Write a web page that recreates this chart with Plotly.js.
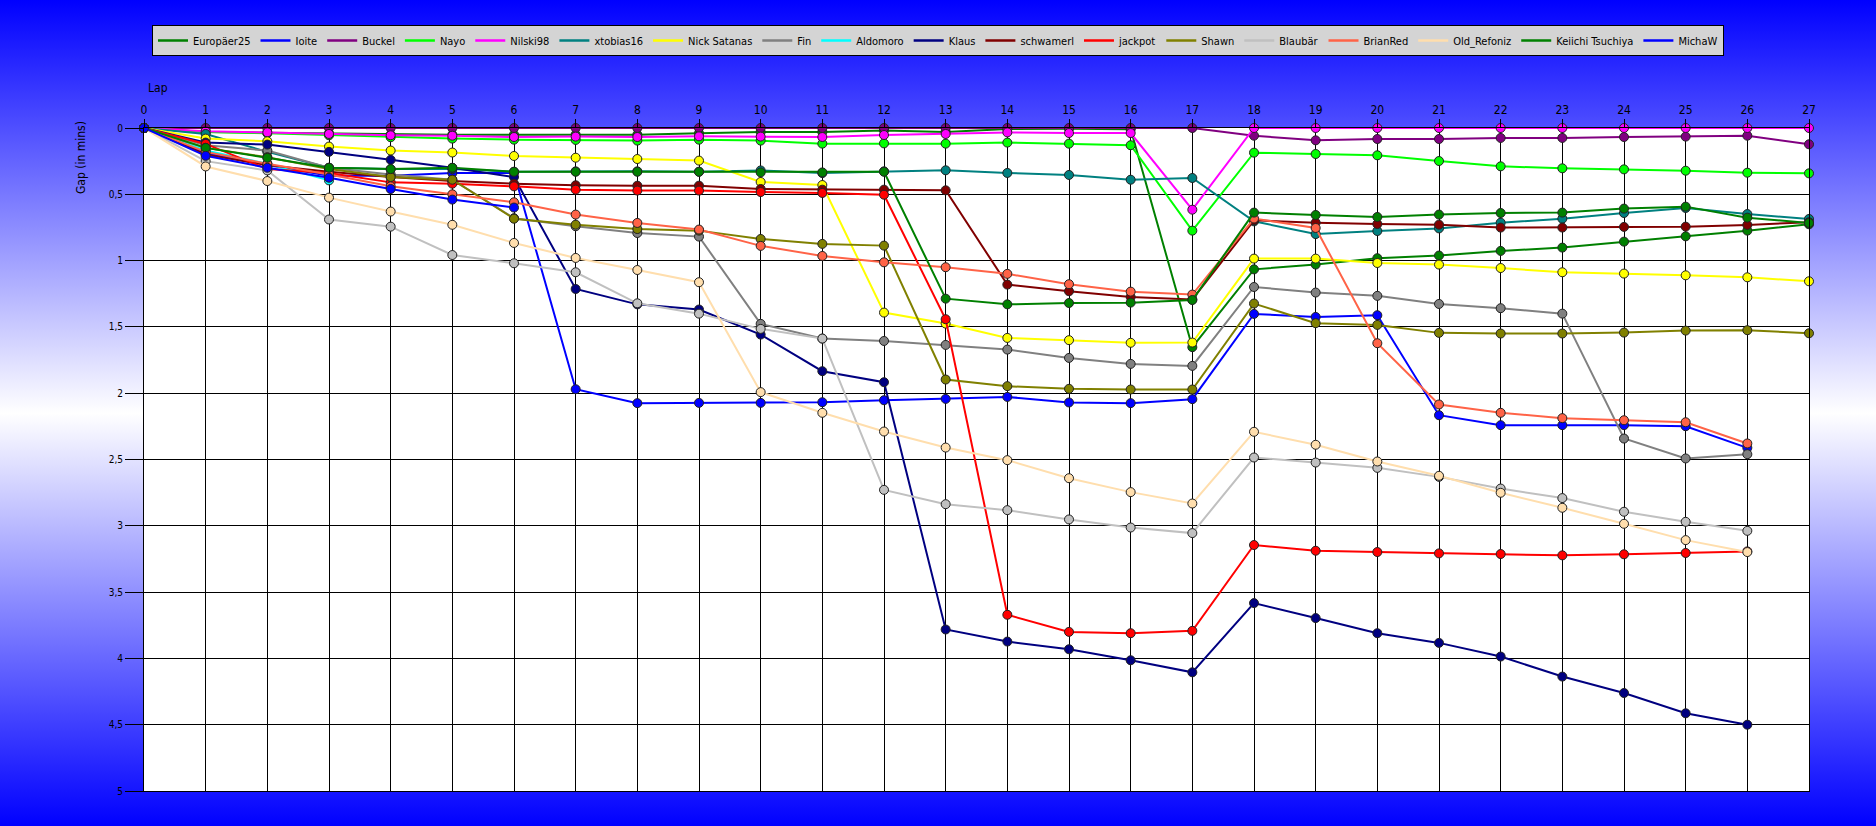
<!DOCTYPE html>
<html>
<head>
<meta charset="utf-8">
<script src="https://cdn.plot.ly/plotly-3.0.1.min.js"></script>
<style>
  html, body { margin: 0; padding: 0; }
  body { width: 1876px; height: 826px; background: linear-gradient(to bottom, #0000ff 0%, #ffffff 50%, #0000ff 100%); }
  #chart { width: 1876px; height: 826px; }
</style>
</head>
<body>
<div id="chart"></div>
<script>
const laps = [0,1,2,3,4,5,6,7,8,9,10,11,12,13,14,15,16,17,18,19,20,21,22,23,24,25,26,27];

const driverNames = ["Europäer25","Ioite","Buckel","Nayo","Nilski98","xtobias16","Nick Satanas","Fin","Aldomoro","Klaus","schwamerl","jackpot","Shawn","Blaubär","BrianRed","Old_Refoniz","Keiichi Tsuchiya","MichaW"];
const driverColors = ["#008000","#0000FF","#800080","#00FF00","#FF00FF","#008080","#FFFF00","#808080","#00FFFF","#000080","#800000","#FF0000","#808000","#C0C0C0","#FF6347","#FFDEAD","#008000","#0000FF"];

const gapEuropaer25 = [0,0.03,0.035,0.04,0.05,0.05,0.05,0.05,0.05,0.04,0.03,0.03,0.018,0.03,0.008,0.005,0.01,1.653,1.066,1.03,0.982,0.962,0.927,0.902,0.857,0.817,0.774,0.726];
const gapIoite = [0,0.19,0.28,0.36,0.36,0.34,0.34,1.97,2.075,2.073,2.073,2.068,2.053,2.043,2.028,2.07,2.075,2.045,1.402,1.425,1.412,2.166,2.241,2.241,2.241,2.249,2.412,null];
const gapBuckel = [0,0,0,0,0,0,0,0,0,0,0,0,0,0,0,0,0,0,0.058,0.093,0.083,0.083,0.075,0.075,0.068,0.065,0.058,0.123];
const gapNayo = [0,0.03,0.04,0.055,0.07,0.08,0.088,0.09,0.095,0.088,0.095,0.118,0.116,0.118,0.11,0.118,0.13,0.774,0.186,0.196,0.206,0.249,0.289,0.304,0.312,0.322,0.337,0.342];
const gapNilski98 = [0,0.025,0.033,0.045,0.055,0.058,0.068,0.065,0.068,0.063,0.065,0.068,0.053,0.045,0.033,0.038,0.038,0.616,0,0,0,0,0,0,0,0,0,0];
const gapXtobias16 = [0,0.045,0.18,0.3,0.31,0.31,0.33,0.327,0.327,0.33,0.32,0.34,0.327,0.319,0.339,0.354,0.39,0.377,0.704,0.8,0.777,0.757,0.714,0.684,0.641,0.603,0.649,0.686];
const gapNickSatanas = [0,0.08,0.1,0.14,0.17,0.185,0.211,0.224,0.234,0.246,0.407,0.43,1.392,1.475,1.583,1.6,1.62,1.618,0.985,0.985,1.018,1.03,1.056,1.088,1.098,1.111,1.126,1.156];
const gapFin = [0,0.13,0.17,0.3,0.35,0.39,0.68,0.741,0.792,0.819,1.477,1.588,1.606,1.636,1.671,1.734,1.779,1.794,1.199,1.241,1.266,1.327,1.359,1.4,2.342,2.492,2.46,null];
const gapAldomoro = [0,0.17,0.27,0.395,null,null,null,null,null,null,null,null,null,null,null,null,null,null,null,null,null,null,null,null,null,null,null,null];
const gapKlaus = [0,0.11,0.125,0.18,0.24,0.3,0.37,1.214,1.33,1.369,1.558,1.834,1.917,3.782,3.873,3.931,4.014,4.105,3.583,3.696,3.81,3.883,3.986,4.137,4.261,4.414,4.5,null];
const gapSchwamerl = [0,0.2,0.28,0.33,0.37,0.4,0.42,0.432,0.435,0.435,0.46,0.465,0.465,0.47,1.181,1.231,1.274,1.294,0.696,0.714,0.724,0.729,0.751,0.751,0.746,0.744,0.731,0.711];
const gapJackpot = [0,0.12,0.31,0.34,0.41,0.42,0.44,0.465,0.472,0.472,0.483,0.49,0.503,1.442,3.671,3.8,3.81,3.792,3.145,3.188,3.198,3.208,3.213,3.223,3.215,3.205,3.193,null];
const gapShawn = [0,0.15,0.22,0.31,0.37,0.39,0.684,0.729,0.762,0.774,0.837,0.874,0.887,1.897,1.947,1.967,1.972,1.972,1.324,1.472,1.485,1.545,1.55,1.55,1.543,1.528,1.525,1.548];
const gapBlaubaer = [0,0.25,0.32,0.69,0.744,0.958,1.02,1.088,1.322,1.4,1.515,1.588,2.729,2.837,2.882,2.952,3.013,3.055,2.485,2.523,2.563,2.631,2.719,2.791,2.894,2.97,3.038,null];
const gapBrianRed = [0,0.18,0.27,0.35,0.44,0.5,0.56,0.653,0.716,0.766,0.889,0.965,1.013,1.05,1.1,1.178,1.234,1.256,0.683,0.754,1.623,2.085,2.148,2.188,2.204,2.219,2.379,null];
const gapOldRefoniz = [0,0.29,0.4,0.525,0.63,0.73,0.867,0.98,1.071,1.163,1.992,2.148,2.289,2.41,2.505,2.641,2.746,2.832,2.291,2.389,2.515,2.623,2.751,2.864,2.985,3.108,3.198,null];
const gapKeiichi = [0,0.15,0.225,0.3,0.31,0.3,0.33,0.33,0.33,0.33,0.335,0.335,0.33,1.287,1.33,1.32,1.317,1.297,0.638,0.656,0.671,0.653,0.641,0.638,0.608,0.593,0.676,0.716];
const gapMichaW = [0,0.21,0.3,0.375,0.46,0.54,0.6,null,null,null,null,null,null,null,null,null,null,null,null,null,null,null,null,null,null,null,null,null];

const yTickValues = [0,0.5,1,1.5,2,2.5,3,3.5,4,4.5,5];

const gapSeries = [gapEuropaer25,gapIoite,gapBuckel,gapNayo,gapNilski98,gapXtobias16,gapNickSatanas,gapFin,gapAldomoro,gapKlaus,gapSchwamerl,gapJackpot,gapShawn,gapBlaubaer,gapBrianRed,gapOldRefoniz,gapKeiichi,gapMichaW];

const FONT = "'Liberation Sans Narrow', 'Arial Narrow', 'DejaVu Sans Condensed', 'Liberation Sans', sans-serif";

const traces = [];
driverNames.forEach((name, i) => {
  traces.push({
    x: laps, y: gapSeries[i], name: name, type: 'scatter', mode: 'lines+markers',
    legendgroup: name, showlegend: false, cliponaxis: false, connectgaps: false,
    line: {color: driverColors[i], width: 2},
    marker: {color: driverColors[i], size: 9, line: {color: '#222222', width: 1}}
  });
});
driverNames.forEach((name, i) => {
  traces.push({
    x: [null], y: [null], name: name, type: 'scatter', mode: 'lines',
    legendgroup: name, showlegend: true,
    line: {color: driverColors[i], width: 2.5}
  });
});

const layout = {
  width: 1876, height: 826,
  paper_bgcolor: 'rgba(0,0,0,0)',
  plot_bgcolor: '#ffffff',
  separators: ', ',
  margin: {l: 144, r: 67, t: 128, b: 35, pad: 0},
  font: {family: FONT, color: '#000000', size: 11},
  showlegend: true,
  legend: {
    orientation: 'h', xref: 'container', yref: 'container',
    x: 0.5, xanchor: 'center', y: 1 - 25/826, yanchor: 'top',
    bgcolor: '#d4d4d4', bordercolor: '#000000', borderwidth: 1,
    font: {family: FONT, size: 11, color: '#000000'},
    itemwidth: 30, traceorder: 'normal'
  },
  xaxis: {
    range: [0, 27], side: 'top', tickmode: 'array', tickvals: laps, ticktext: laps.map(String),
    ticks: 'outside', ticklen: 8, tickwidth: 1, tickcolor: '#000000',
    showgrid: true, gridcolor: '#000000', gridwidth: 1,
    showline: true, linecolor: '#000000', linewidth: 1, mirror: true,
    zeroline: false, tickfont: {size: 12, family: FONT}, fixedrange: true
  },
  yaxis: {
    range: [5, 0], tickmode: 'array', tickvals: yTickValues,
    ticks: 'outside', ticklen: 18, tickwidth: 1, tickcolor: '#000000',
    showgrid: true, gridcolor: '#000000', gridwidth: 1,
    showline: true, linecolor: '#000000', linewidth: 1, mirror: true,
    zeroline: false, tickfont: {size: 10, family: FONT}, ticklabelstandoff: 0, fixedrange: true
  },
  annotations: [
    {text: 'Lap', xref: 'paper', yref: 'paper', x: 0.001, y: 1 + 40/663, xanchor: 'left', yanchor: 'middle',
     showarrow: false, font: {family: FONT, size: 12, color: '#000000'}},
    {text: 'Gap (in mins)', xref: 'paper', yref: 'paper', x: (81-144)/1665, y: 1 - 30/663, xanchor: 'center', yanchor: 'middle',
     textangle: -90, showarrow: false, font: {family: FONT, size: 12, color: '#000000'}}
  ]
};

Plotly.newPlot('chart', traces, layout, {displayModeBar: false, staticPlot: true});
</script>
</body>
</html>
